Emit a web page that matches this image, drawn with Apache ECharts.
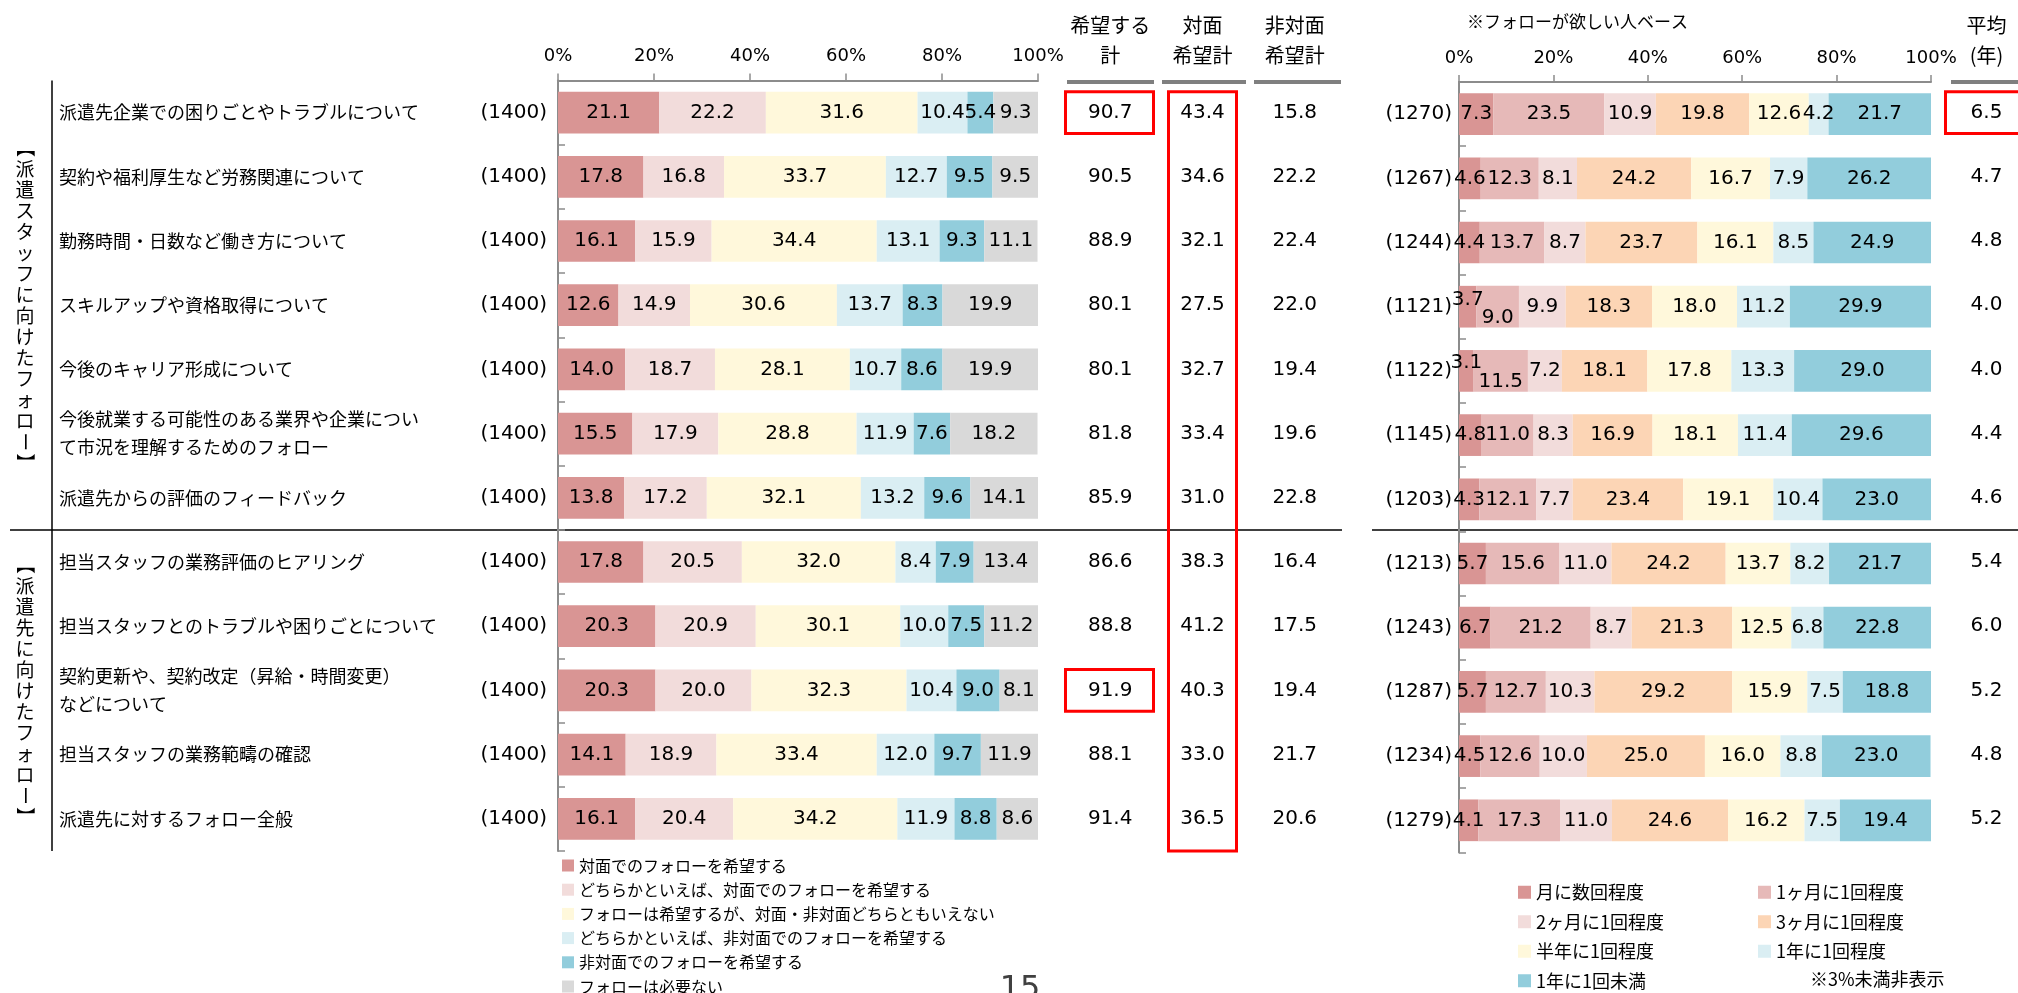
<!DOCTYPE html>
<html><head><meta charset="utf-8">
<script src="https://cdn.jsdelivr.net/npm/echarts@6/dist/echarts.min.js"></script>
<style>html,body{margin:0;padding:0;background:#fff}#c{width:2018px;height:993px}</style>
</head><body><div id="c"></div>
<script>
// ---------- DATA ----------
const categories = [
  '派遣先企業での困りごとやトラブルについて',
  '契約や福利厚生など労務関連について',
  '勤務時間・日数など働き方について',
  'スキルアップや資格取得について',
  '今後のキャリア形成について',
  '今後就業する可能性のある業界や企業につい\nて市況を理解するためのフォロー',
  '派遣先からの評価のフィードバック',
  '担当スタッフの業務評価のヒアリング',
  '担当スタッフとのトラブルや困りごとについて',
  '契約更新や、契約改定（昇給・時間変更）\nなどについて',
  '担当スタッフの業務範疇の確認',
  '派遣先に対するフォロー全般'
];
const nLeft  = [1400,1400,1400,1400,1400,1400,1400,1400,1400,1400,1400,1400];
const nRight = [1270,1267,1244,1121,1122,1145,1203,1213,1243,1287,1234,1279];

const leftNames = ['対面でのフォローを希望する','どちらかといえば、対面でのフォローを希望する','フォローは希望するが、対面・非対面どちらともいえない','どちらかといえば、非対面でのフォローを希望する','非対面でのフォローを希望する','フォローは必要ない'];
const sTaimen        = [21.1,17.8,16.1,12.6,14.0,15.5,13.8,17.8,20.3,20.3,14.1,16.1];
const sDochiraTaimen = [22.2,16.8,15.9,14.9,18.7,17.9,17.2,20.5,20.9,20.0,18.9,20.4];
const sDochiraTomo   = [31.6,33.7,34.4,30.6,28.1,28.8,32.1,32.0,30.1,32.3,33.4,34.2];
const sDochiraHi     = [10.4,12.7,13.1,13.7,10.7,11.9,13.2,8.4,10.0,10.4,12.0,11.9];
const sHitaimen      = [5.4,9.5,9.3,8.3,8.6,7.6,9.6,7.9,7.5,9.0,9.7,8.8];
const sFuyou         = [9.3,9.5,11.1,19.9,19.9,18.2,14.1,13.4,11.2,8.1,11.9,8.6];

const totalHeaders = ['希望する\n計','対面\n希望計','非対面\n希望計'];
const totalKibou   = [90.7,90.5,88.9,80.1,80.1,81.8,85.9,86.6,88.8,91.9,88.1,91.4];
const totalTaimen  = [43.4,34.6,32.1,27.5,32.7,33.4,31.0,38.3,41.2,40.3,33.0,36.5];
const totalHitaimen= [15.8,22.2,22.4,22.0,19.4,19.6,22.8,16.4,17.5,19.4,21.7,20.6];

const rightNames = ['月に数回程度','1ヶ月に1回程度','2ヶ月に1回程度','3ヶ月に1回程度','半年に1回程度','1年に1回程度','1年に1回未満'];
const fSeveralMonth = [7.3,4.6,4.4,3.7,3.1,4.8,4.3,5.7,6.7,5.7,4.5,4.1];
const fMonthly      = [23.5,12.3,13.7,9.0,11.5,11.0,12.1,15.6,21.2,12.7,12.6,17.3];
const f2Month       = [10.9,8.1,8.7,9.9,7.2,8.3,7.7,11.0,8.7,10.3,10.0,11.0];
const f3Month       = [19.8,24.2,23.7,18.3,18.1,16.9,23.4,24.2,21.3,29.2,25.0,24.6];
const fHalfYear     = [12.6,16.7,16.1,18.0,17.8,18.1,19.1,13.7,12.5,15.9,16.0,16.2];
const fYearly       = [4.2,7.9,8.5,11.2,13.3,11.4,10.4,8.2,6.8,7.5,8.8,7.5];
const fLessYearly   = [21.7,26.2,24.9,29.9,29.0,29.6,23.0,21.7,22.8,18.8,23.0,19.4];

const avgHeader = ['平均\n(年)'];
const avgYears = [6.5,4.7,4.8,4.0,4.0,4.4,4.6,5.4,6.0,5.2,4.8,5.2];

const groupLabels = ['【派遣スタッフに向けたフォロー】','【派遣先に向けたフォロー】'];
const pctTicks = {min:0, max:100, interval:20};

// ---------- LAYOUT / STYLE ----------
const TOP = 80.5, BAND = 64.2, H = BAND * 12, BARH = 41.7;
const JP = '"Noto Sans CJK JP", sans-serif';
const NUM = '"DejaVu Sans", Verdana, sans-serif';
const AXC = '#8c8c8c';
const leftColors  = ['#D99594','#F2DCDB','#FFF8DB','#DAEEF3','#92CDDC','#D9D9D9'];
const rightColors = ['#D99594','#E6B9B8','#F2DCDB','#FCD5B5','#FFF8DB','#DAEEF3','#92CDDC'];

const chart = echarts.init(document.getElementById('c'), null, {renderer:'canvas'});

function barSeries(name, data, color, ax, adjust) {
  return {
    type:'bar', name, stack:'s'+ax, xAxisIndex:ax, yAxisIndex: ax===0?0:3,
    barWidth: BARH, itemStyle:{color}, silent:true, emphasis:{disabled:true},
    data: data.map((v,i)=>{ const o={value:v}; if (adjust && adjust[i]) o.label={offset:adjust[i]}; return o; }),
    label:{show:true, position:'inside', color:'#000', fontSize:20, fontFamily:NUM,
      formatter: p => p.value >= 3 ? p.value.toFixed(1) : ''}
  };
}
function textSeries(values, xi, yi, col) {
  return {
    type:'scatter', xAxisIndex:xi, yAxisIndex:yi, symbolSize:1, silent:true,
    itemStyle:{color:'rgba(255,255,255,0)'}, emphasis:{disabled:true},
    data: values.map((v,i)=>[col, i, v]),
    label:{show:true, position:'inside', color:'#000', opacity:1, fontSize:20, fontFamily:NUM,
      formatter: p => p.value[2].toFixed(1)}
  };
}

const leftData = [sTaimen,sDochiraTaimen,sDochiraTomo,sDochiraHi,sHitaimen,sFuyou];
const rightData = [fSeveralMonth,fMonthly,f2Month,f3Month,fHalfYear,fYearly,fLessYearly];
const rightAdjust = [{3:[0,-7],4:[0,-8]},{3:[0,11],4:[0,11]}];

const series = [];
leftData.forEach((d,k)=>series.push(barSeries(leftNames[k], d, leftColors[k], 0)));
[totalKibou,totalTaimen,totalHitaimen].forEach((d,k)=>series.push(textSeries(d,1,2,k)));
rightData.forEach((d,k)=>series.push(barSeries(rightNames[k], d, rightColors[k], 2, rightAdjust[k])));
series.push(textSeries(avgYears,3,4,0));

const valAxis = (gi) => ({
  type:'value', gridIndex:gi, position:'top', ...pctTicks,
  axisLine:{show:true, lineStyle:{color:AXC, width:2}},
  axisTick:{show:true, length:7, lineStyle:{color:AXC, width:1.5}},
  splitLine:{show:false},
  axisLabel:{formatter:'{value}%', fontSize:18, fontFamily:NUM, color:'#000', margin:15}
});
const headAxis = (gi, data) => ({
  type:'category', gridIndex:gi, position:'top', data,
  axisLine:{show:false}, axisTick:{show:false}, splitLine:{show:false},
  axisLabel:{fontSize:20, fontFamily:JP, color:'#000', lineHeight:30, margin:10, interval:0}
});
const catAxis = (gi, data, extra) => Object.assign({
  type:'category', gridIndex:gi, inverse:true, position:'left', data,
  axisLine:{show:true, lineStyle:{color:AXC, width:2}},
  axisTick:{show:true, inside:true, length:7, lineStyle:{color:AXC, width:1.5}},
  splitLine:{show:false}
}, extra);

const option = {
  animation:false,
  backgroundColor:'#fff',
  grid:[
    {left:558, top:TOP, width:480, height:H},
    {left:1064, top:TOP, width:277, height:H},
    {left:1459, top:TOP+1.5, width:472, height:H},
    {left:1955, top:TOP, width:72, height:H}
  ],
  xAxis:[ valAxis(0), headAxis(1,totalHeaders), valAxis(2), headAxis(3,avgHeader) ],
  yAxis:[
    catAxis(0, nLeft.map(n=>'('+n+')'), {axisLabel:{margin:11, fontSize:20, fontFamily:NUM, color:'#000', interval:0}}),
    catAxis(0, categories, {axisLine:{show:false}, axisTick:{show:false},
      axisLabel:{align:'left', margin:499, fontSize:18, fontFamily:JP, color:'#000', lineHeight:28, interval:0}}),
    catAxis(1, categories, {show:false}),
    catAxis(2, nRight.map(n=>'('+n+')'), {axisLabel:{margin:7, fontSize:20, fontFamily:NUM, color:'#000', interval:0}}),
    catAxis(3, categories, {show:false})
  ],
  legend:[
    {data:leftNames, orient:'vertical', left:562, top:856, height:180, padding:0, icon:'rect', itemWidth:12, itemHeight:12,
     itemGap:5.2, selectedMode:false, textStyle:{fontSize:16, fontFamily:JP, color:'#000', lineHeight:19}},
    {data:rightNames, orient:'horizontal', left:1518, top:880, width:480, height:140, padding:0, icon:'rect', itemWidth:13, itemHeight:13,
     itemGap:5, selectedMode:false, textStyle:{fontSize:18, fontFamily:JP, color:'#000', lineHeight:24.5, width:217}}
  ],
  series
};

// vertical (tategaki) group labels: brackets and long vowel mark are turned 90°
const rowTop = i => TOP + i*BAND + (BAND-BARH)/2;
const STEP = 21;
function vertText(str, cx, cy) {
  const chars = Array.from(str);
  const y0 = cy - chars.length*STEP/2 + STEP/2;
  return chars.map((ch,i)=>{
    const rot = '【】ー'.includes(ch);
    return {type:'text', x:cx, y:y0+i*STEP, rotation: rot ? -Math.PI/2 : 0,
      style:{text:ch, font:'19px '+JP, fill:'#000', align:'center', verticalAlign:'middle'}};
  });
}
const red = {stroke:'#FF0000', lineWidth:3, fill:null};
option.graphic = [
  ...vertText(groupLabels[0], 25, TOP+3.5*BAND),
  ...vertText(groupLabels[1], 25, TOP+9.5*BAND),
  {type:'line', shape:{x1:52, y1:TOP, x2:52, y2:TOP+H}, style:{stroke:'#000', lineWidth:1.5}},
  {type:'line', shape:{x1:10, y1:TOP+7*BAND, x2:1342, y2:TOP+7*BAND}, style:{stroke:'#000', lineWidth:1.5}},
  {type:'line', shape:{x1:1372, y1:TOP+7*BAND, x2:2018, y2:TOP+7*BAND}, style:{stroke:'#000', lineWidth:1.5}},
  {type:'rect', shape:{x:1067, y:80, width:87, height:4}, style:{fill:'#7f7f7f'}},
  {type:'rect', shape:{x:1162, y:80, width:84, height:4}, style:{fill:'#7f7f7f'}},
  {type:'rect', shape:{x:1254, y:80, width:87, height:4}, style:{fill:'#7f7f7f'}},
  {type:'rect', shape:{x:1951, y:80, width:70, height:4}, style:{fill:'#7f7f7f'}},
  {type:'rect', shape:{x:1065.5, y:rowTop(0), width:88, height:BARH}, style:red},
  {type:'rect', shape:{x:1065.5, y:rowTop(9), width:88, height:BARH}, style:red},
  {type:'rect', shape:{x:1168.5, y:rowTop(0), width:68, height:TOP+H-rowTop(0)}, style:red},
  {type:'rect', shape:{x:1945.5, y:rowTop(0), width:90, height:BARH}, style:red},
  {type:'text', x:1467, y:22, style:{text:'※フォローが欲しい人ベース', font:'17px '+JP, fill:'#000', align:'left', verticalAlign:'middle'}},
  {type:'text', x:1810, y:979, style:{text:'※3%未満非表示', font:'18px '+JP, fill:'#000', align:'left', verticalAlign:'middle'}},
  {type:'text', x:1020, y:974, style:{text:'15', font:'32px '+NUM, fill:'#404040', align:'center', verticalAlign:'top'}}
];

chart.setOption(option);
</script></body></html>
